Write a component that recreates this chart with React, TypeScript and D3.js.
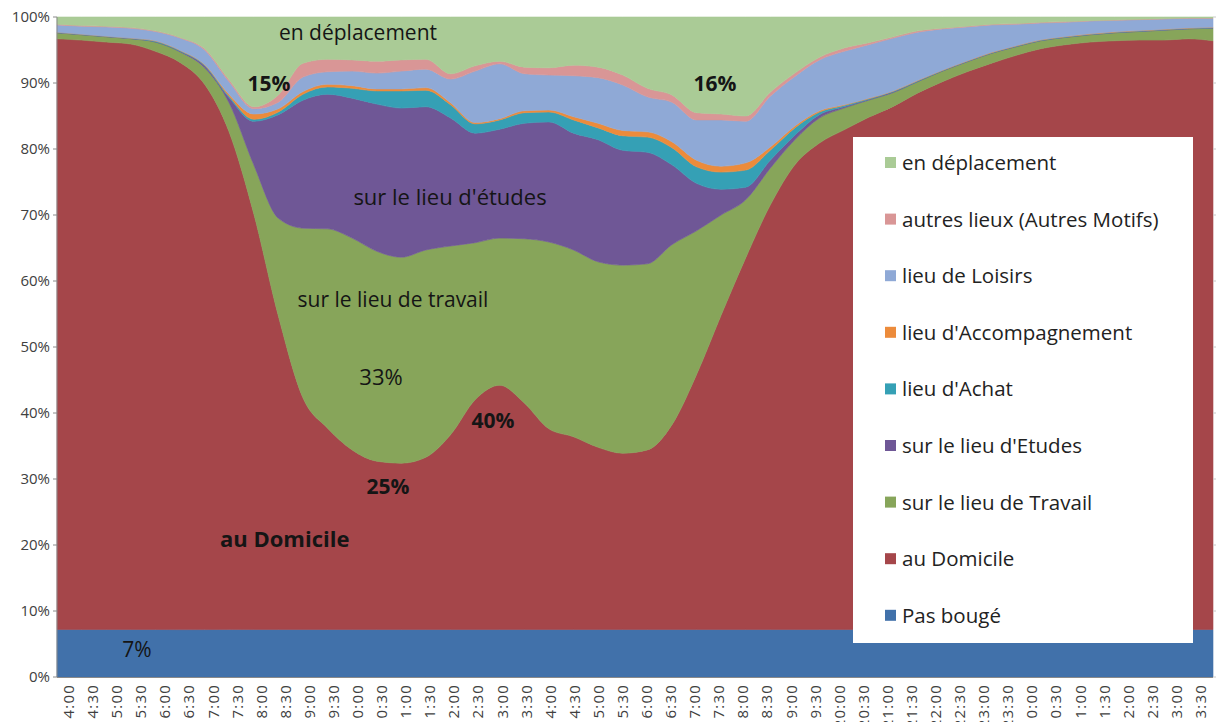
import React from 'react';
import * as d3 from 'd3';

const times = ["4:00","4:30","5:00","5:30","6:00","6:30","7:00","7:30","8:00","8:30","9:00","9:30","10:00","10:30","11:00","11:30","12:00","12:30","13:00","13:30","14:00","14:30","15:00","15:30","16:00","16:30","17:00","17:30","18:00","18:30","19:00","19:30","20:00","20:30","21:00","21:30","22:00","22:30","23:00","23:30","0:00","0:30","1:00","1:30","2:00","2:30","3:00","3:30"];

const pasBouge = [7.2,7.2,7.2,7.2,7.2,7.2,7.2,7.2,7.2,7.2,7.2,7.2,7.2,7.2,7.2,7.2,7.2,7.2,7.2,7.2,7.2,7.2,7.2,7.2,7.2,7.2,7.2,7.2,7.2,7.2,7.2,7.2,7.2,7.2,7.2,7.2,7.2,7.2,7.2,7.2,7.2,7.2,7.2,7.2,7.2,7.2,7.2,7.2];
const domicile = [89.5,89.3,89.0,88.7,87.6,86.2,82.8,75.2,63.0,47.5,35.1,30.5,27.2,25.5,25.2,26.1,29.5,34.8,37.0,34.3,30.4,29.2,27.6,26.7,27.2,31.0,38.6,47.6,56.3,64.3,70.4,73.7,75.7,77.6,79.3,81.3,83.0,84.5,85.8,87.0,88.0,88.6,89.0,89.2,89.3,89.3,89.5,89.2];
const travail = [0.9,0.8,0.8,0.8,1.4,1.6,2.5,4.4,7.4,14.8,25.7,30.2,32.1,31.8,31.2,31.4,28.6,23.8,22.3,24.9,28.3,28.3,28.1,28.5,28.2,27.3,21.8,15.2,8.8,5.6,3.8,3.8,3.3,2.6,2.1,1.7,1.6,1.5,1.5,1.3,1.2,1.1,1.1,1.2,1.3,1.5,1.5,1.9];
const etudes = [0.05,0.05,0.05,0.05,0.05,0.1,0.3,0.8,6.6,15.7,19.4,20.4,21.2,22.3,22.6,21.7,19.4,16.6,16.5,17.5,18.2,17.7,18.5,17.4,16.9,12.1,7.2,3.9,1.9,1.2,0.7,0.5,0.2,0.1,0.1,0.05,0.05,0.05,0.05,0.05,0.05,0.05,0.05,0.05,0.05,0.05,0.05,0.05];
const achat = [0.05,0.05,0.05,0.05,0.1,0.1,0.1,0.2,0.3,0.4,0.9,1.1,1.5,2.0,2.6,2.5,2.0,1.4,1.4,1.6,1.5,2.0,1.8,2.2,2.3,2.6,2.5,2.6,2.6,1.5,1.1,0.4,0.2,0.1,0.1,0.1,0.05,0.05,0.05,0.05,0.05,0.05,0.05,0.05,0.05,0.05,0.05,0.05];
const accompagnement = [0,0,0,0,0.05,0.05,0.1,0.3,0.8,0.5,0.4,0.4,0.4,0.3,0.3,0.4,0.3,0.2,0.2,0.3,0.3,0.5,0.7,0.8,0.8,0.9,1.0,0.9,1.1,0.5,0.3,0.2,0.1,0.1,0.05,0.05,0.05,0.05,0.05,0.05,0.05,0.05,0.05,0.05,0.05,0.05,0.05,0.05];
const loisirs = [1.1,1.2,1.4,1.5,1.4,1.85,2.2,1.9,0.8,1.0,2.2,1.9,2.2,2.4,2.7,2.8,3.6,7.8,8.3,5.6,5.3,6.2,6.9,6.9,5.3,6.0,6.1,7.0,6.3,7.7,7.5,7.7,8.1,8.1,8.0,7.3,6.25,5.15,4.15,3.25,2.55,2.15,1.95,1.75,1.65,1.55,1.45,1.35];
const autres = [0.1,0.1,0.1,0.1,0.1,0.1,0.2,0.3,0.3,1.1,2.1,1.9,1.7,1.8,1.7,1.5,0.8,0.8,0.4,1.0,1.1,1.6,1.6,1.5,1.3,1.1,1.1,0.9,0.8,0.6,0.5,0.4,0.5,0.3,0.2,0.2,0.1,0.1,0.1,0.1,0.1,0.1,0.05,0.05,0.05,0.05,0.05,0.05];
const deplacement = [1.1,1.3,1.4,1.6,2.1,3.1,4.8,9.5,13.6,11.8,7.0,6.4,6.5,6.7,6.5,6.4,8.6,7.4,6.7,7.6,7.7,7.3,7.6,8.8,10.8,11.8,14.5,14.7,15.0,11.4,8.5,6.1,4.7,3.9,3.0,2.1,1.7,1.4,1.1,1.0,0.8,0.7,0.55,0.45,0.35,0.25,0.15,0.15];

const seriesNames = ["Pas bougé","au Domicile","sur le lieu de Travail","sur le lieu d'Etudes","lieu d'Achat","lieu d'Accompagnement","lieu de Loisirs","autres lieux (Autres Motifs)","en déplacement"];
const seriesColors = ["#4171AA","#A5464A","#87A55A","#6F5796","#35A0B5","#EC8B3B","#8FA9D6","#D99696","#AACB96"];
const yTickValues = [0,0.1,0.2,0.3,0.4,0.5,0.6,0.7,0.8,0.9,1.0];

const annotations = [
  { text: "en déplacement", x: 358, y: 40, bold: false, size: 21, anchor: "middle" },
  { text: "15%", x: 269, y: 91, bold: true, size: 21, anchor: "middle" },
  { text: "16%", x: 715, y: 91, bold: true, size: 21, anchor: "middle" },
  { text: "sur le lieu d'études", x: 450, y: 205, bold: false, size: 22, anchor: "middle" },
  { text: "sur le lieu de travail", x: 393, y: 307, bold: false, size: 21, anchor: "middle" },
  { text: "33%", x: 381, y: 385, bold: false, size: 22, anchor: "middle" },
  { text: "40%", x: 493, y: 428, bold: true, size: 21, anchor: "middle" },
  { text: "25%", x: 388, y: 494, bold: true, size: 21, anchor: "middle" },
  { text: "au Domicile", x: 220, y: 547, bold: true, size: 22, anchor: "start" },
  { text: "7%", x: 137, y: 657, bold: false, size: 21, anchor: "middle" },
];

export default function App() {
  const W = 1216, H = 722;
  const left = 57, right = 1213, top = 17, bottom = 677;
  const font = "'Open Sans', 'DejaVu Sans', sans-serif";

  const valuesBySeries = [pasBouge, domicile, travail, etudes, achat, accompagnement, loisirs, autres, deplacement];
  const table = times.map((t, i) => {
    const row: any = { time: t };
    seriesNames.forEach((k, j) => { row[k] = valuesBySeries[j][i]; });
    return row;
  });
  const layers = d3.stack().keys(seriesNames).offset(d3.stackOffsetExpand)(table);

  const x = d3.scalePoint<string>().domain(times).range([left, right]);
  const xb = d3.scaleBand<string>().domain(times).range([left, right]);
  const y = d3.scaleLinear().domain([0, 1]).range([bottom, top]);

  const area = d3.area<any>()
    .x((d: any, i: number) => x(times[i]) as number)
    .y0((d: any) => y(d[0]))
    .y1((d: any) => y(d[1]))
    .curve(d3.curveMonotoneX);

  const legendX = 853, legendY = 137, legendW = 340, legendH = 506;
  const legendOrder = seriesNames.map((n, i) => i).reverse();

  return (
    <svg width={W} height={H} style={{ position: 'absolute', left: 0, top: 0, background: '#fff' }} fontFamily={font}>
      <rect x={0} y={0} width={W} height={H} fill="#fff" />
      <g>
        {layers.map((layer: any, i: number) => (
          <path key={i} d={area(layer) as string} fill={seriesColors[i]} stroke={seriesColors[i]} strokeWidth={0.6} />
        ))}
      </g>
      <line x1={left} x2={left} y1={top} y2={bottom} stroke="#8a8a8a" strokeWidth={1} />
      <line x1={left} x2={right} y1={bottom + 0.5} y2={bottom + 0.5} stroke="#8a8a8a" strokeWidth={1} />
      {yTickValues.map((v) => (
        <g key={v}>
          <line x1={left - 4} x2={left} y1={y(v)} y2={y(v)} stroke="#8a8a8a" />
          <line x1={right} x2={right + 3} y1={y(v)} y2={y(v)} stroke="#c8c8c8" />
          <text x={50} y={y(v) + 5} textAnchor="end" fontSize={15} fill="#404040">{d3.format(".0%")(v)}</text>
        </g>
      ))}
      {times.map((t) => {
        const cx = (xb(t) as number) + xb.bandwidth() / 2;
        return (
          <text key={t} transform={`translate(${cx + 5},${684}) rotate(-90)`} textAnchor="end" fontSize={15} letterSpacing={1.2} fill="#404040">{t}</text>
        );
      })}
      {annotations.map((a, i) => (
        <text key={i} x={a.x} y={a.y} textAnchor={a.anchor as any} fontSize={a.size} fontWeight={a.bold ? 700 : 400} fill="#151515">{a.text}</text>
      ))}
      <g>
        <rect x={legendX} y={legendY} width={legendW} height={legendH} fill="#fff" />
        {legendOrder.map((si, k) => {
          const cy = 163 + k * 56.6;
          return (
            <g key={si}>
              <rect x={885} y={cy - 6} width={11} height={11} fill={seriesColors[si]} />
              <text x={902} y={cy + 7} fontSize={20.5} fill="#222">{seriesNames[si]}</text>
            </g>
          );
        })}
      </g>
    </svg>
  );
}
